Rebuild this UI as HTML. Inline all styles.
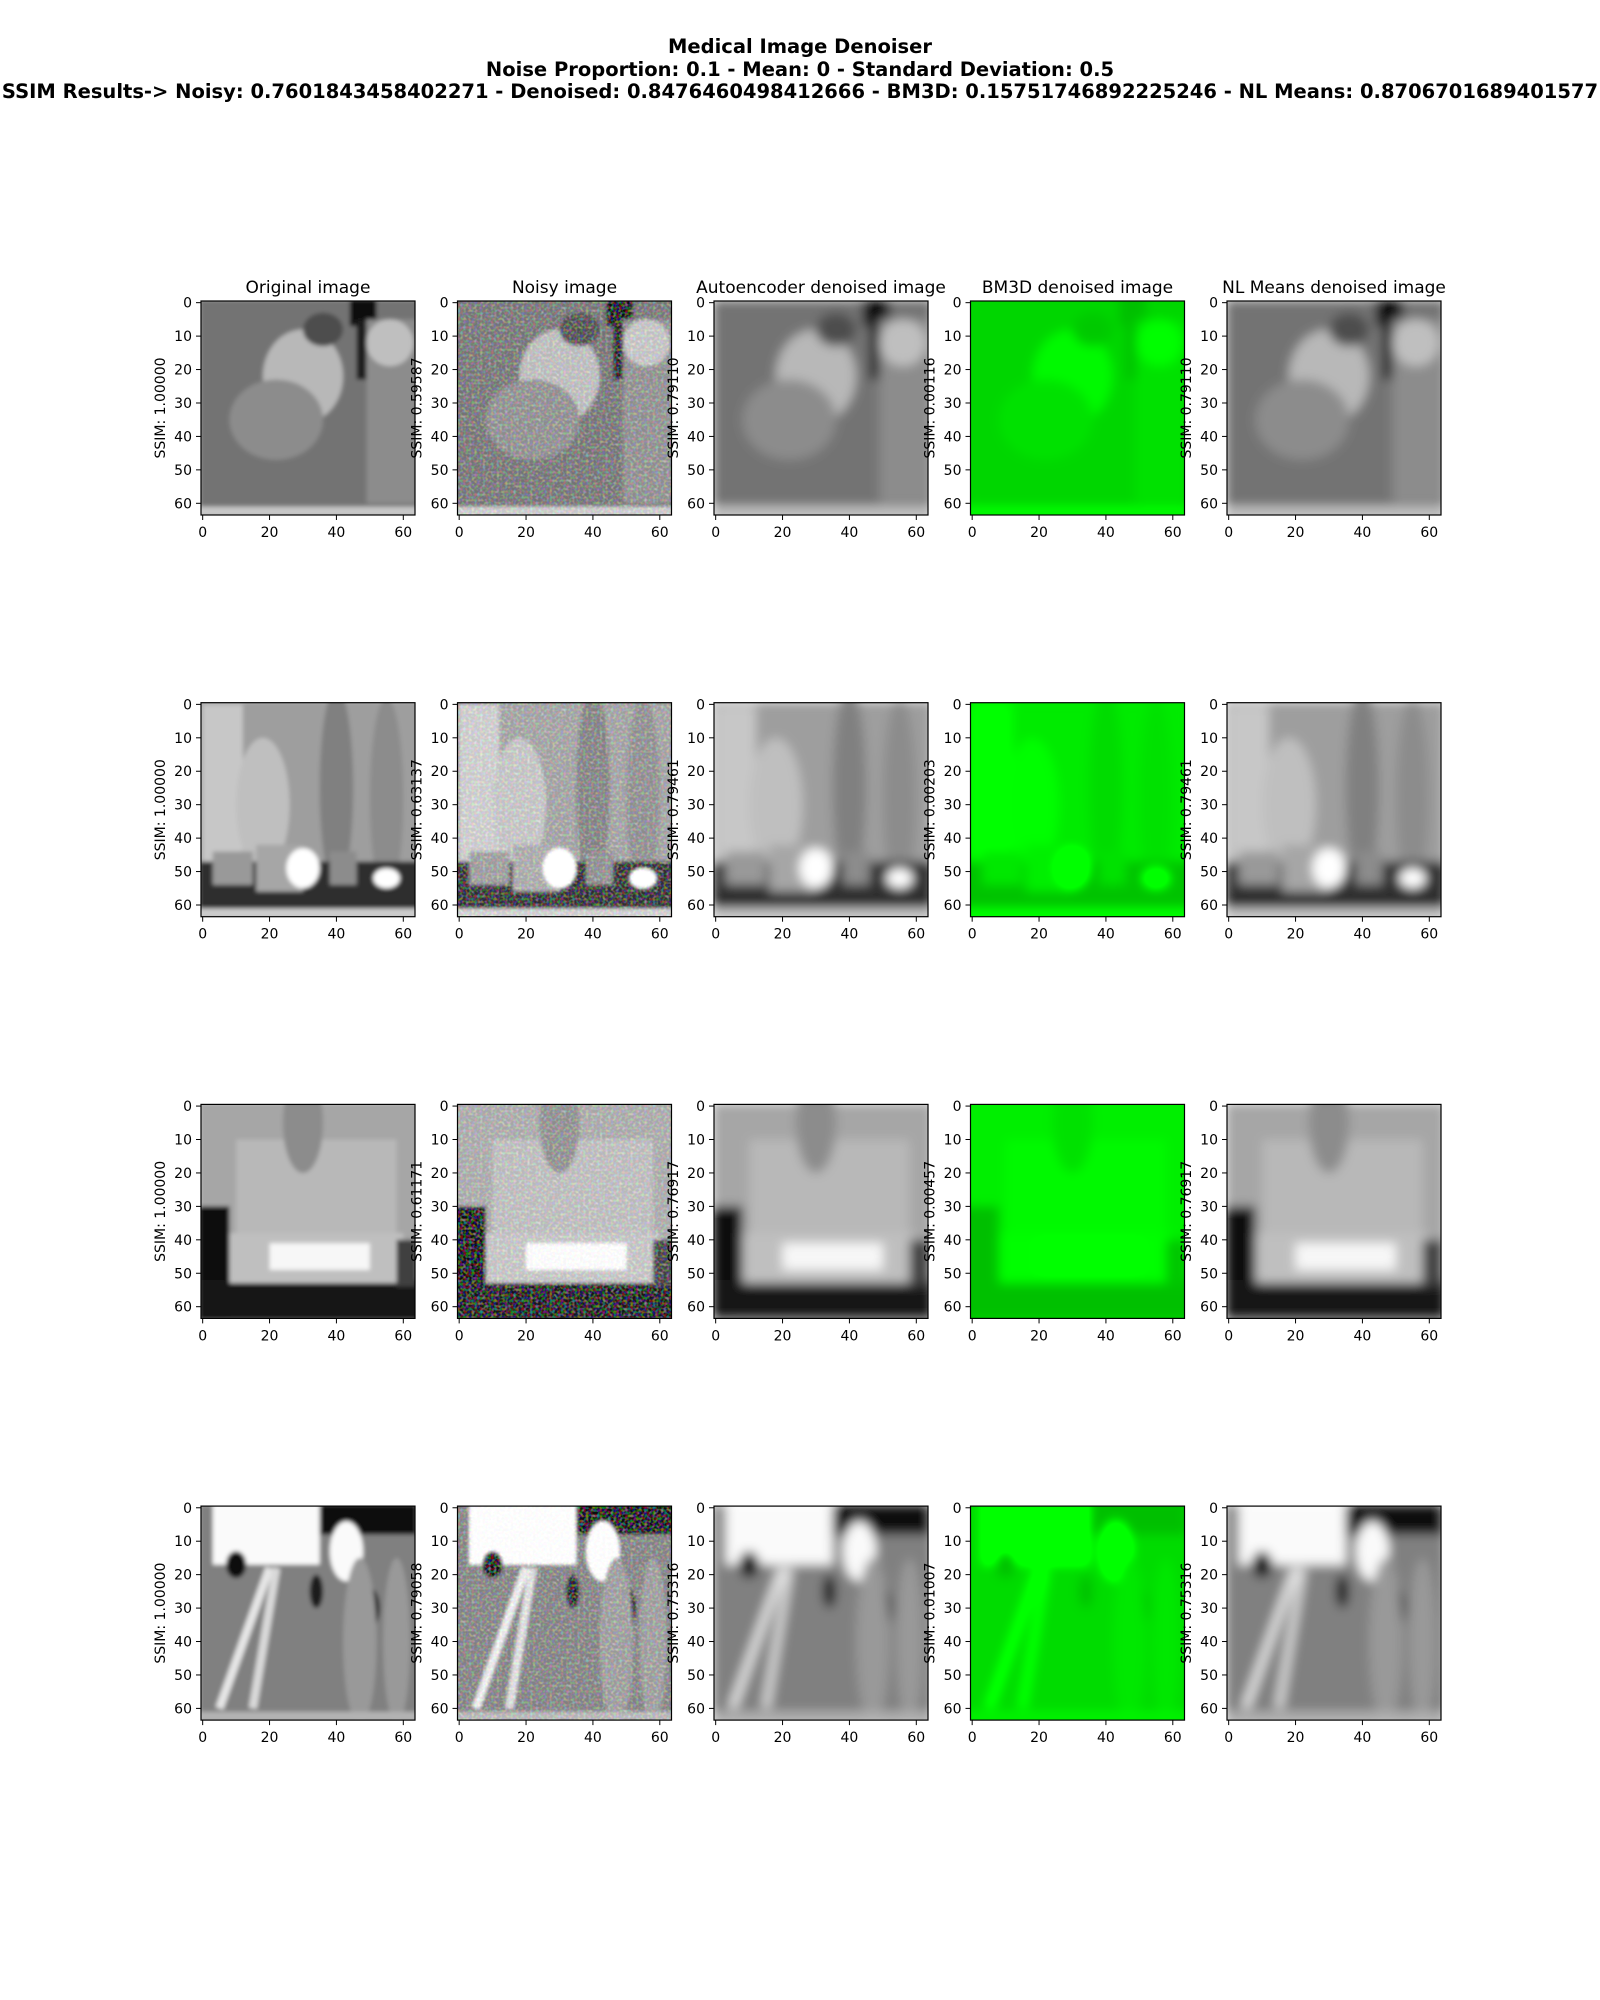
<!DOCTYPE html>
<html><head><meta charset="utf-8">
<style>
body{margin:0;background:#fff;width:1600px;height:2000px;overflow:hidden;font-family:"DejaVu Sans","Liberation Sans",sans-serif;}
#title{position:absolute;left:0;top:36px;width:1600px;text-align:center;font-weight:bold;font-size:19.5px;line-height:22.5px;color:#000;}
</style></head><body>
<div id="title">Medical Image Denoiser<br>Noise Proportion: 0.1 - Mean: 0 - Standard Deviation: 0.5<br>SSIM Results-&gt; Noisy: 0.7601843458402271 - Denoised: 0.8476460498412666 - BM3D: 0.15751746892225246 - NL Means: 0.8706701689401577</div>
<svg id="fig" width="1600" height="2000" style="position:absolute;left:0;top:0">
<defs>
<filter id="f-orig" x="0" y="0" width="1" height="1"><feGaussianBlur stdDeviation="0.6"/></filter>
<filter id="f-noisy" x="0" y="0" width="1" height="1"><feGaussianBlur stdDeviation="0.5" result="b"/><feTurbulence type="fractalNoise" baseFrequency="1.2" numOctaves="1" seed="3" result="n"/><feColorMatrix in="n" type="matrix" values="1 0 0 0 -0.45 0 1 0 0 -0.45 0 0 1 0 -0.45 0 0 0 0 1" result="n2"/><feComposite in="b" in2="n2" operator="arithmetic" k2="1" k3="0.8" k4="0"/></filter>
<filter id="f-auto" x="0" y="0" width="1" height="1"><feGaussianBlur stdDeviation="1.6"/></filter>
<filter id="f-bm3d" x="0" y="0" width="1" height="1"><feGaussianBlur stdDeviation="1.6"/><feColorMatrix type="matrix" values="0 0 0 0 0  0.9 0 0 0 0.52  0 0 0 0 0  0 0 0 0 1"/></filter>
</defs>
</svg>
<script>
const colTitles=["Original image","Noisy image","Autoencoder denoised image","BM3D denoised image","NL Means denoised image"];
const ssimRow0=["1.00000","0.59587","0.79110","0.00116","0.79110"];
const ssimRow1=["1.00000","0.63137","0.79461","0.00203","0.79461"];
const ssimRow2=["1.00000","0.61171","0.76917","0.00457","0.76917"];
const ssimRow3=["1.00000","0.79058","0.75316","0.01007","0.75316"];
const ssim=[ssimRow0,ssimRow1,ssimRow2,ssimRow3];
const yTicks=[0,10,20,30,40,50,60];
const xTicks=[0,20,40,60];
const filters=["f-orig","f-noisy","f-auto","f-bm3d","f-auto"];
const scenes=[
 [["r",-1,-1,66,66,0.45],["e",30,22,12,14,0.72],["e",22,35,14,12,0.55],["r",44,-1,8,8,0.05],["r",46,5,3,18,0.1],["r",49,5,15,55,0.55],["e",56,12,7,7,0.75],["e",36,8,6,5,0.3],["r",-1,61,66,3,0.78]],
 [["r",-1,-1,66,66,0.62],["r",0,0,12,47,0.78],["e",18,30,8,20,0.75],["e",40,25,5,30,0.5],["e",55,28,5,30,0.55],["r",-1,47,66,15,0.18],["r",3,44,12,10,0.6],["r",16,42,14,14,0.65],["e",30,49,5,6,1],["r",38,44,8,10,0.55],["e",55,52,4,3,1],["r",-1,61,66,3,0.8]],
 [["r",-1,-1,66,66,0.65],["r",10,10,48,30,0.72],["r",-1,30,9,34,0.05],["r",-1,52,66,12,0.08],["r",8,38,52,15,0.75],["r",20,41,30,8,0.97],["r",58,40,6,14,0.25],["e",30,5,6,15,0.55]],
 [["r",-1,-1,66,66,0.5],["r",34,-1,30,9,0.05],["r",3,-1,32,18,0.98],["e",43,13,5,9,0.98],["e",10,17,3,4,0.05],["e",34,25,2,5,0.1],["e",50,30,3,6,0.15],["l",20,18,5,60,0.9],["l",22,18,15,60,0.85],["e",47,40,5,25,0.6],["e",58,40,4,25,0.6],["r",-1,61,66,3,0.7]]
];
const NS="http://www.w3.org/2000/svg";
const fig=document.getElementById('fig');
const AX_L=201,AX_T=301,COL_DX=256.5,ROW_DY=401.7,SZ=214;
const xScale=v=>(v+0.5)*SZ/64;
function mk(tag,attrs,parent){const e=document.createElementNS(NS,tag);for(const k in attrs)e.setAttribute(k,attrs[k]);parent.appendChild(e);return e;}
function g2(v){const c=Math.round(Math.max(0,Math.min(1,v))*255);return `rgb(${c},${c},${c})`;}
for(let r=0;r<4;r++){for(let c=0;c<5;c++){
 const x0=AX_L+COL_DX*c,y0=AX_T+ROW_DY*r;
 const ax=mk('g',{transform:`translate(${x0},${y0})`},fig);
 
 
 const img=mk('svg',{x:0,y:0,width:SZ,height:SZ,viewBox:"-0.5 -0.5 64 64",preserveAspectRatio:"none"},ax);
 
 
 const gg=mk('g',{filter:`url(#${filters[c]})`},img);
 for(const s of scenes[r]){
  const col=g2(s[5]);
  if(s[0]==="r")mk('rect',{x:s[1],y:s[2],width:s[3],height:s[4],fill:col},gg);
  else if(s[0]==="e")mk('ellipse',{cx:s[1],cy:s[2],rx:s[3],ry:s[4],fill:col},gg);
  else mk('line',{x1:s[1],y1:s[2],x2:s[3],y2:s[4],stroke:col,'stroke-width':2.5},gg);
 }
 const fr=mk('rect',{x:0,y:0,width:SZ,height:SZ,fill:'none',stroke:'#000','stroke-width':1.2},ax);
 
 
 for(const t of yTicks){const p=xScale(t);
  mk('line',{x1:-5,y1:p,x2:0,y2:p,stroke:'#000','stroke-width':1},ax);
  const tx=mk('text',{x:-9,y:p+5,'text-anchor':'end','font-size':14,fill:'#000'},ax);tx.textContent=t;
  
  }
 for(const t of xTicks){const p=xScale(t);
  mk('line',{x1:p,y1:SZ,x2:p,y2:SZ+5,stroke:'#000','stroke-width':1},ax);
  const tx=mk('text',{x:p,y:SZ+22,'text-anchor':'middle','font-size':14,fill:'#000'},ax);tx.textContent=t;
  
  }
 const yl=mk('text',{x:0,y:0,transform:`translate(-36,${SZ/2}) rotate(-90)`,'text-anchor':'middle','font-size':14,fill:'#000'},ax);
 yl.textContent='SSIM: '+ssim[r][c];
 
 
 if(r===0){const tt=mk('text',{x:SZ/2,y:-8,'text-anchor':'middle','font-size':17,fill:'#000'},ax);tt.textContent=colTitles[c];
  
  }
}}
</script>
</body></html>
